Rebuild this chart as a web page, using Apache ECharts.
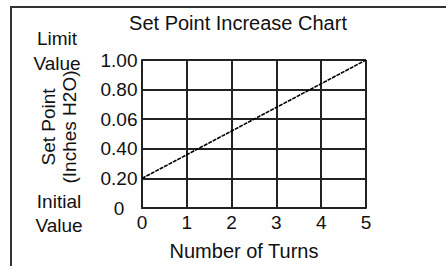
<!DOCTYPE html>
<html>
<head>
<meta charset="utf-8">
<script src="https://cdn.jsdelivr.net/npm/echarts@6/dist/echarts.min.js"></script>
<style>
  html, body { margin: 0; padding: 0; background: #fff; }
  #chart { width: 446px; height: 266px; }
</style>
</head>
<body>
<div id="chart"></div>
<script>
// data
const turns = [0, 1, 2, 3, 4, 5]
const setPoint = [0.20, 0.36, 0.52, 0.68, 0.84, 1.00]
// tick labels as printed on the original (note the "0.06")
const yTickLabels = ['0', '0.20', '0.40', '0.06', '0.80', '1.00']
const xTickLabels = ['0', '1', '2', '3', '4', '5']

const font = 'Liberation Sans, Arial, sans-serif'
const ink = '#111'
const gridInk = '#222'

const myChart = echarts.init(document.getElementById('chart'), null, { renderer: 'svg' })

const option = {
  animation: false,
  backgroundColor: '#fff',
  title: {
    text: 'Set Point Increase Chart',
    left: 238,
    top: 13,
    padding: 0,
    textAlign: 'center',
    textStyle: { fontFamily: font, fontSize: 20, fontWeight: 'normal', color: ink }
  },
  grid: { left: 142, right: 80, top: 60, bottom: 57, containLabel: false },
  xAxis: {
    type: 'value',
    min: 0,
    max: 5,
    interval: 1,
    name: 'Number of Turns',
    nameLocation: 'middle',
    nameGap: 33,
    nameTextStyle: { fontFamily: font, fontSize: 20, color: ink, padding: [0, 20, 0, 0] },
    axisLine: { show: true, lineStyle: { color: gridInk, width: 2 } },
    axisTick: { show: false },
    splitLine: { show: true, lineStyle: { color: gridInk, width: 2 } },
    axisLabel: {
      margin: 5,
      fontFamily: font,
      fontSize: 19,
      color: ink,
      formatter: v => xTickLabels[Math.round(v)]
    }
  },
  yAxis: {
    type: 'value',
    min: 0,
    max: 1,
    interval: 0.2,
    name: 'Set Point\n(Inches H2O)',
    nameLocation: 'middle',
    nameGap: 62,
    nameTextStyle: { fontFamily: font, fontSize: 19, color: ink, lineHeight: 21, padding: [0, 0, 0, 14] },
    axisLine: { show: true, lineStyle: { color: gridInk, width: 2 } },
    axisTick: { show: false },
    splitLine: { show: true, lineStyle: { color: gridInk, width: 2 } },
    axisLabel: {
      margin: 23,
      align: 'center',
      fontFamily: font,
      fontSize: 19,
      color: ink,
      formatter: v => yTickLabels[Math.round(v / 0.2)]
    }
  },
  graphic: [
    {
      type: 'polyline',
      shape: { points: [[11, 266], [11, 7], [446, 7]] },
      style: { stroke: '#333', lineWidth: 2, fill: null },
      silent: true
    },
    {
      type: 'text',
      x: 57,
      y: 51,
      style: {
        text: 'Limit\nValue',
        font: '19px ' + font,
        fill: ink,
        align: 'center',
        verticalAlign: 'middle',
        lineHeight: 25
      }
    },
    {
      type: 'text',
      x: 59,
      y: 213,
      style: {
        text: 'Initial\nValue',
        font: '19px ' + font,
        fill: ink,
        align: 'center',
        verticalAlign: 'middle',
        lineHeight: 24
      }
    }
  ],
  series: [
    {
      type: 'line',
      data: turns.map((t, i) => [t, setPoint[i]]),
      symbol: 'none',
      lineStyle: { color: '#000', width: 1.6, type: [4, 1] },
      z: 5
    }
  ]
}

myChart.setOption(option)
</script>
</body>
</html>
